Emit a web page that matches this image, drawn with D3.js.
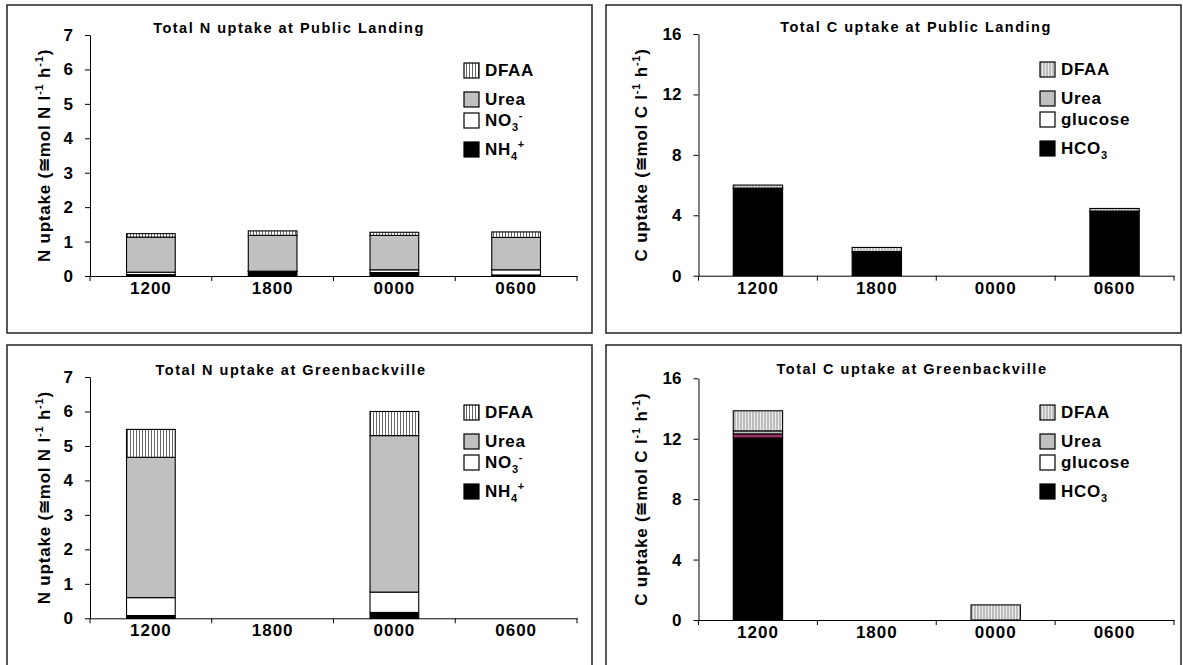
<!DOCTYPE html>
<html><head><meta charset="utf-8">
<script src="https://cdn.jsdelivr.net/npm/d3@7"></script>
<style>
body{margin:0;background:#fff;}
text{font-family:"Liberation Sans",Arial,sans-serif;font-weight:bold;fill:#000;}
</style>
</head><body><svg id="c" width="1183" height="665"></svg>
<script>
// ---------- data ----------
const categories = ["1200", "1800", "0000", "0600"];
const nKeys = ["NH4", "NO3", "Urea", "DFAA"];          // stack order bottom -> top
const cKeys = ["HCO3", "glucose", "Urea", "DFAA"];
const nTicks = [0, 1, 2, 3, 4, 5, 6, 7];
const cTicks = [0, 4, 8, 12, 16];

// Total N uptake at Public Landing
const nPublicNH4  = [0.04, 0.13, 0.10, 0.03];
const nPublicNO3  = [0.07, 0.01, 0.08, 0.15];
const nPublicUrea = [1.02, 1.04, 1.00, 0.94];
const nPublicDFAA = [0.10, 0.13, 0.09, 0.16];
// Total N uptake at Greenbackville
const nGreenNH4  = [0.08, 0, 0.17, 0];
const nGreenNO3  = [0.52, 0, 0.59, 0];
const nGreenUrea = [4.07, 0, 4.54, 0];
const nGreenDFAA = [0.81, 0, 0.70, 0];
// Total C uptake at Public Landing
const cPublicHCO3    = [5.75, 1.55, 0, 4.25];
const cPublicGlucose = [0, 0, 0, 0];
const cPublicUrea    = [0.05, 0.05, 0, 0.03];
const cPublicDFAA    = [0.20, 0.27, 0, 0.17];
// Total C uptake at Greenbackville
const cGreenHCO3    = [12.05, 0, 0, 0];
const cGreenGlucose = [0.27, 0, 0, 0];
const cGreenUrea    = [0.2, 0, 0, 0];
const cGreenDFAA    = [1.33, 0, 1.0, 0];

// ---------- build tables ----------
function table(keys, arrays){
  return categories.map((c,i)=>{const r={cat:c}; keys.forEach((k,j)=>r[k]=arrays[j][i]); return r;});
}

const svg = d3.select("#c");
const defs = svg.append("defs");
const pN = defs.append("pattern").attr("id","hatchN").attr("patternUnits","userSpaceOnUse").attr("width",3).attr("height",10);
pN.append("rect").attr("width",3).attr("height",10).attr("fill","#fff");
pN.append("line").attr("x1",1.5).attr("x2",1.5).attr("y1",0).attr("y2",10).attr("stroke","#555").attr("stroke-width",0.9);
const pC = defs.append("pattern").attr("id","hatchC").attr("patternUnits","userSpaceOnUse").attr("width",3).attr("height",10);
pC.append("rect").attr("width",3).attr("height",10).attr("fill","#b8b8b8");
pC.append("line").attr("x1",1.5).attr("x2",1.5).attr("y1",0).attr("y2",10).attr("stroke","#ececec").attr("stroke-width",1.2);

const nFill = {NH4:"#000", NO3:"#fff", Urea:"#c0c0c0", DFAA:"url(#hatchN)"};
const cFill = {HCO3:"#000", glucose:"#fff", Urea:"#c0c0c0", DFAA:"url(#hatchC)"};

const nLegend = [
  {k:"DFAA", parts:[["DFAA",""]]},
  {k:"Urea", parts:[["Urea",""]]},
  {k:"NO3", parts:[["NO",""],["3","sub"],["-","sup"]]},
  {k:"NH4", parts:[["NH",""],["4","sub"],["+","sup"]]}
];
const cLegend = [
  {k:"DFAA", parts:[["DFAA",""]]},
  {k:"Urea", parts:[["Urea",""]]},
  {k:"glucose", parts:[["glucose",""]]},
  {k:"HCO3", parts:[["HCO",""],["3","sub"]]}
];
const legendDy = [0, 29, 50, 79];

const panels = [
  {title:"Total N uptake at Public Landing", frame:[7,5,585,328], x0:90, x1:577, yTop:35, yBot:276, max:7, ticks:nTicks,
   keys:nKeys, rows:table(nKeys,[nPublicNH4,nPublicNO3,nPublicUrea,nPublicDFAA]), fill:nFill, legend:nLegend,
   tx:289, ty:33, ytx:50, elem:"N", lx:464, ly:63, pad:0.6},
  {title:"Total C uptake at Public Landing", frame:[606,5,575,328], x0:698.5, x1:1174, yTop:34, yBot:275.7, max:16, ticks:cTicks,
   keys:cKeys, rows:table(cKeys,[cPublicHCO3,cPublicGlucose,cPublicUrea,cPublicDFAA]), fill:cFill, legend:cLegend,
   tx:916, ty:32, ytx:647, elem:"C", lx:1040, ly:62, pad:0.585},
  {title:"Total N uptake at Greenbackville", frame:[7,345,585,340], x0:90, x1:577, yTop:377, yBot:618.3, max:7, ticks:nTicks,
   keys:nKeys, rows:table(nKeys,[nGreenNH4,nGreenNO3,nGreenUrea,nGreenDFAA]), fill:nFill, legend:nLegend,
   tx:291, ty:375, ytx:50, elem:"N", lx:464, ly:405, pad:0.6},
  {title:"Total C uptake at Greenbackville", frame:[606,345,575,340], x0:698.5, x1:1174, yTop:378.3, yBot:620, max:16, ticks:cTicks,
   keys:cKeys, rows:table(cKeys,[cGreenHCO3,cGreenGlucose,cGreenUrea,cGreenDFAA]), fill:Object.assign({},cFill,{glucose:"#993366"}), legend:cLegend,
   tx:912, ty:374, ytx:647, elem:"C", lx:1040, ly:405, pad:0.585}
];

panels.forEach(p=>{
  const g = svg.append("g");
  g.append("rect").attr("x",p.frame[0]).attr("y",p.frame[1]).attr("width",p.frame[2]).attr("height",p.frame[3])
    .attr("fill","none").attr("stroke","#222").attr("stroke-width",1.5);

  const x = d3.scaleBand().domain(categories).range([p.x0,p.x1]).paddingInner(p.pad).paddingOuter(p.pad/2);
  const y = d3.scaleLinear().domain([0,p.max]).range([p.yBot,p.yTop]);

  // bars
  const stacked = d3.stack().keys(p.keys)(p.rows);
  stacked.forEach(s=>{
    g.append("g").selectAll("rect").data(s.filter(d=>d[1]-d[0]>0)).join("rect")
      .attr("x",d=>x(d.data.cat)).attr("width",x.bandwidth())
      .attr("y",d=>y(d[1])).attr("height",d=>y(d[0])-y(d[1]))
      .attr("fill",p.fill[s.key]).attr("stroke","#000").attr("stroke-width",1.1);
  });

  // y axis
  const ya = g.append("g").attr("transform",`translate(${p.x0},0)`)
    .call(d3.axisLeft(y).tickValues(p.ticks).tickSize(5).tickSizeOuter(0).tickPadding(12).tickFormat(d3.format("d")));
  ya.select(".domain").attr("stroke","#000");
  ya.selectAll(".tick line").attr("stroke","#000");
  ya.selectAll("text").attr("font-size",17).attr("font-family","Liberation Sans, Arial, sans-serif").attr("font-weight","bold");

  // x axis
  const xa = g.append("g").attr("transform",`translate(0,${p.yBot})`)
    .call(d3.axisBottom(x).tickSize(0).tickSizeOuter(0).tickPadding(6));
  xa.select(".domain").attr("stroke","#000");
  xa.selectAll("text").attr("font-size",17).attr("letter-spacing","1px")
    .attr("font-family","Liberation Sans, Arial, sans-serif").attr("font-weight","bold");
  const step = x.step();
  d3.range(categories.length+1).forEach(i=>{
    xa.append("line").attr("x1",p.x0+i*step).attr("x2",p.x0+i*step).attr("y1",0).attr("y2",5).attr("stroke","#000");
  });

  // title
  g.append("text").attr("x",p.tx).attr("y",p.ty).attr("text-anchor","middle")
    .attr("font-size",14.5).attr("letter-spacing","1.5px").text(p.title);

  // y axis title
  const yt = g.append("text").attr("transform",`translate(${p.ytx},${(p.yTop+p.yBot)/2}) rotate(-90)`)
    .attr("text-anchor","middle").attr("font-size",17).attr("letter-spacing","0.8px");
  yt.append("tspan").text(`${p.elem} uptake (\u2245mol ${p.elem} l`);
  yt.append("tspan").attr("dy",-7).attr("font-size",11).text("-1");
  yt.append("tspan").attr("dy",7).text(" h");
  yt.append("tspan").attr("dy",-7).attr("font-size",11).text("-1");
  yt.append("tspan").attr("dy",7).text(")");

  // legend
  p.legend.forEach((L,i)=>{
    const yy = p.ly + legendDy[i];
    g.append("rect").attr("x",p.lx).attr("y",yy).attr("width",15).attr("height",15)
      .attr("fill", L.k==="glucose" ? "#fff" : p.fill[L.k]).attr("stroke","#000").attr("stroke-width",1.2);
    const t = g.append("text").attr("x",p.lx+21).attr("y",yy+13).attr("font-size",17).attr("letter-spacing","0.7px");
    let shift = 0;
    L.parts.forEach(([s,kind])=>{
      const ts = t.append("tspan");
      let target = kind==="sub" ? 5 : kind==="sup" ? -7 : 0;
      ts.attr("dy", target-shift).text(s);
      if(kind) ts.attr("font-size",11);
      shift = target;
    });
  });
});
</script>
</body></html>
